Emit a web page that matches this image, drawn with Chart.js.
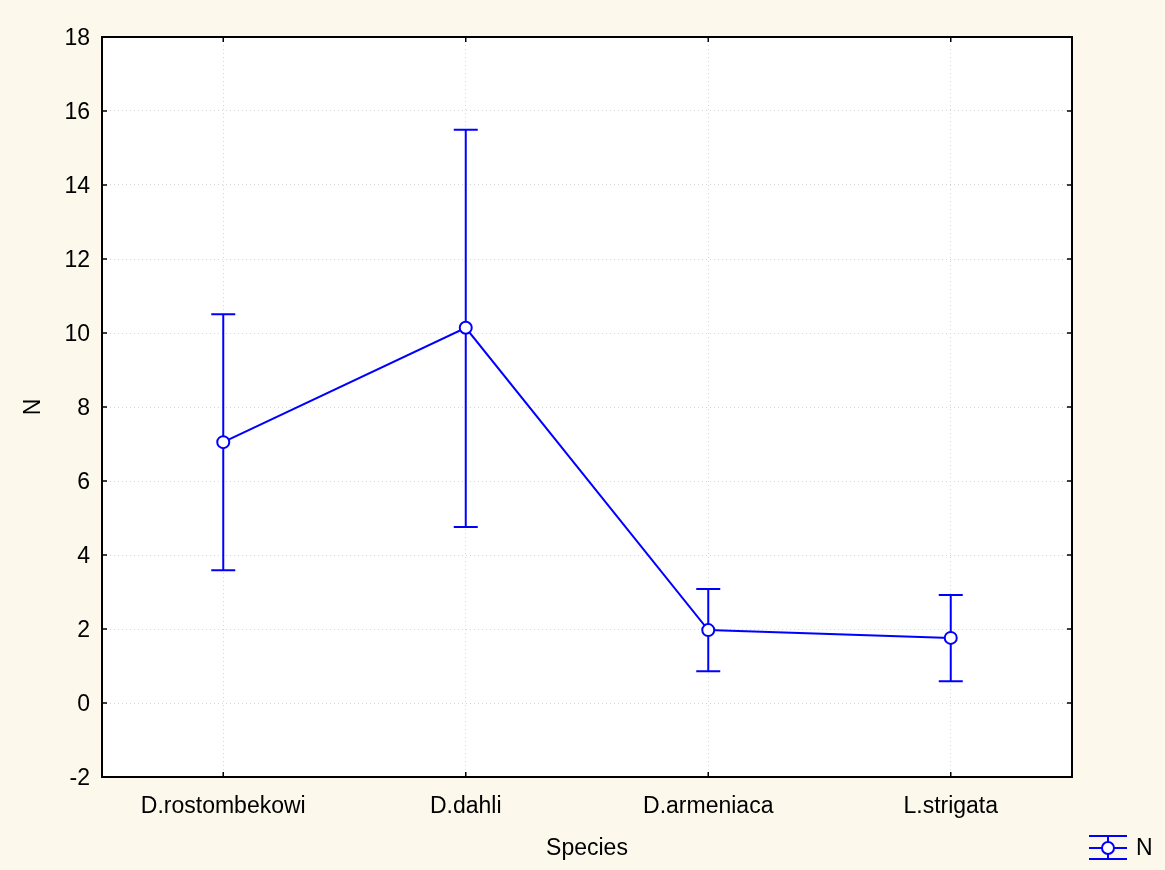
<!DOCTYPE html>
<html>
<head>
<meta charset="utf-8">
<script src="https://cdn.jsdelivr.net/npm/chart.js@4.4.1/dist/chart.umd.min.js"></script>
<style>
  html, body { margin: 0; padding: 0; background: #fcf8ec; }
  #wrap { width: 1165px; height: 870px; }
</style>
</head>
<body>
<div id="wrap"><canvas id="plot"></canvas></div>
<script>
// Datos
const species = ['D.rostombekowi', 'D.dahli', 'D.armeniaca', 'L.strigata'];
const meanN = [7.05, 10.14, 1.97, 1.76];
const upperN = [10.51, 15.49, 3.08, 2.92];
const lowerN = [3.59, 4.76, 0.86, 0.59];
const yTicks = [-2, 0, 2, 4, 6, 8, 10, 12, 14, 16, 18];

const blue = '#0000ff';
const font = 'Arial, "Liberation Sans", sans-serif';
const fontSize = 23;

// Barras de error, marco y ticks interiores
const extras = {
    id: 'extras',
    afterDatasetsDraw(chart) {
        const c = chart.ctx;
        const x = chart.scales.x, y = chart.scales.y;
        const area = chart.chartArea;
        c.save();
        c.strokeStyle = blue;
        c.lineWidth = 2;
        species.forEach((s, i) => {
            const px = x.getPixelForValue(i);
            const top = y.getPixelForValue(upperN[i]);
            const bot = y.getPixelForValue(lowerN[i]);
            const mid = y.getPixelForValue(meanN[i]);
            c.beginPath();
            c.moveTo(px, top); c.lineTo(px, mid - 6);
            c.moveTo(px, mid + 6); c.lineTo(px, bot);
            c.moveTo(px - 12, top); c.lineTo(px + 12, top);
            c.moveTo(px - 12, bot); c.lineTo(px + 12, bot);
            c.stroke();
        });
        // marco
        c.strokeStyle = '#000';
        c.lineWidth = 2;
        c.strokeRect(area.left, area.top, area.right - area.left, area.bottom - area.top);
        // ticks hacia dentro
        c.lineWidth = 1.5;
        c.beginPath();
        yTicks.forEach(v => {
            const py = y.getPixelForValue(v);
            c.moveTo(area.left, py); c.lineTo(area.left + 5, py);
            c.moveTo(area.right, py); c.lineTo(area.right - 5, py);
        });
        species.forEach((s, i) => {
            const px = x.getPixelForValue(i);
            c.moveTo(px, area.bottom); c.lineTo(px, area.bottom - 5);
            c.moveTo(px, area.top); c.lineTo(px, area.top + 5);
        });
        c.stroke();
        // leyenda
        c.strokeStyle = blue;
        c.lineWidth = 2;
        c.beginPath();
        c.moveTo(1089, 836); c.lineTo(1127, 836);
        c.moveTo(1089, 859); c.lineTo(1127, 859);
        c.moveTo(1089, 848); c.lineTo(1102, 848);
        c.moveTo(1114, 848); c.lineTo(1127, 848);
        c.moveTo(1108, 836); c.lineTo(1108, 842);
        c.moveTo(1108, 854); c.lineTo(1108, 859);
        c.stroke();
        c.beginPath();
        c.arc(1108, 848, 6, 0, Math.PI * 2);
        c.fillStyle = '#fff';
        c.fill();
        c.stroke();
        c.fillStyle = '#000';
        c.font = fontSize + 'px ' + font;
        c.textBaseline = 'middle';
        c.textAlign = 'left';
        c.fillText('N', 1136, 849);
        c.restore();
    }
};

const bgPlugin = {
    id: 'bg',
    beforeDraw(chart) {
        const c = chart.ctx, a = chart.chartArea;
        c.save();
        c.fillStyle = '#fcf8ec';
        c.fillRect(0, 0, chart.width, chart.height);
        c.fillStyle = '#ffffff';
        c.fillRect(a.left, a.top, a.right - a.left, a.bottom - a.top);
        c.restore();
    }
};

const gridStyle = {
    color: '#d6d6d6',
    lineWidth: 1,
    drawTicks: false
};
const gridBorder = { display: false, dash: [1, 3] };

new Chart(document.getElementById('plot'), {
    type: 'line',
    data: {
        labels: species,
        datasets: [{
            label: 'N',
            data: meanN,
            borderColor: blue,
            borderWidth: 2,
            pointRadius: 6,
            pointBorderWidth: 2,
            pointBackgroundColor: '#fff',
            pointBorderColor: blue,
            tension: 0,
            fill: false
        }]
    },
    options: {
        responsive: true,
        maintainAspectRatio: false,
        animation: false,
        layout: { padding: { left: 0, top: 37, right: 93, bottom: 0 } },
        plugins: { legend: { display: false }, tooltip: { enabled: false } },
        scales: {
            x: {
                offset: true,
                border: gridBorder,
                grid: { ...gridStyle, offset: false },
                ticks: { color: '#000', font: { family: font, size: fontSize }, padding: 16, maxRotation: 0 },
                title: { display: true, text: 'Species', color: '#000', font: { family: font, size: fontSize }, padding: { top: 0, bottom: 8 } },
                afterFit(s) { s.height = 93; }
            },
            y: {
                min: -2, max: 18,
                border: gridBorder,
                grid: gridStyle,
                afterBuildTicks(s) { s.ticks = yTicks.map(v => ({ value: v })); },
                ticks: { color: '#000', font: { family: font, size: fontSize }, padding: 12, labelOffset: 2 },
                title: { display: true, text: 'N', color: '#000', font: { family: font, size: fontSize }, padding: { top: 20, bottom: 0 } },
                afterFit(s) { s.width = 102; }
            }
        }
    },
    plugins: [bgPlugin, extras]
});
</script>
</body>
</html>
